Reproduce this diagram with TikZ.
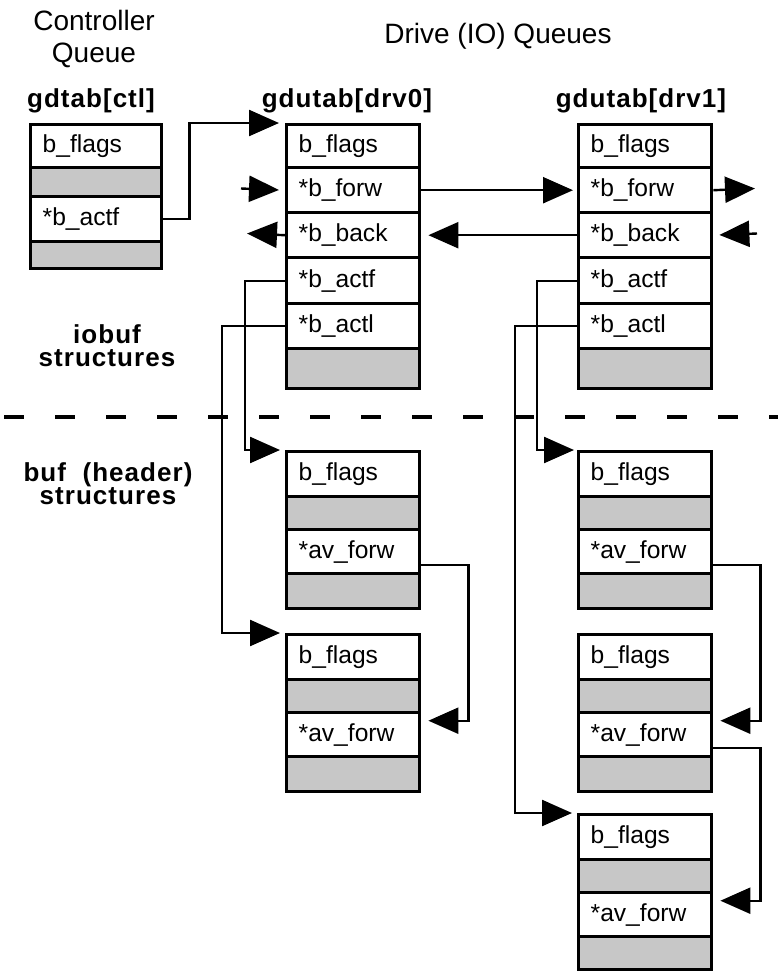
\documentclass[tikz,border=0pt]{standalone}
\usepackage{fontspec}
\setmainfont{Liberation Sans}
\newfontfamily\lblfont[LetterSpace=4]{Liberation Sans}
\usetikzlibrary{arrows.meta}

\begin{document}
\begin{tikzpicture}[x=0.5pt,y=-0.5pt,
  field/.style={draw, line width=1.7pt, minimum height=#1, text width=54.5pt,
    inner xsep=6pt, inner ysep=0pt, align=left, anchor=north west,
    font=\fontsize{12.3}{14}\selectfont},
  ctlfield/.style={field=#1, text width=53.5pt},
  shade/.style={fill=black!22},
  conn/.style={line width=1.2pt, -{Triangle[length=15pt,width=13pt]}},
  title/.style={inner sep=0pt, font=\fontsize{14}{16}\selectfont},
  lbl/.style={inner sep=0pt, font=\lblfont\bfseries\fontsize{13}{11.5}\selectfont},
]
\path[fill=white] (0,0) rectangle (778,971);
\useasboundingbox (0,0) rectangle (778,971);

% headings
\node[title, align=center, anchor=north] (t-ctl) at (94,10) {Controller\\Queue};
\node[title, anchor=base] (t-drive) at (498,43) {Drive (IO) Queues};
\node[lbl, anchor=base] (l-ctl) at (91,107) {gdtab[ctl]};
\node[lbl, anchor=base] (l-d0) at (347,107) {gdutab[drv0]};
\node[lbl, anchor=base] (l-d1) at (641,107) {gdutab[drv1]};
\node[lbl, align=center] (l-io) at (107,346) {iobuf\\structures};
\node[lbl, align=center] (l-buf) at (108,484) {buf\ \ (header)\\structures};

% divider between iobuf and buf structures
\draw[line width=1.6pt, dash pattern=on 10pt off 15.5pt] (4,417) -- (778,417);

% controller queue
\node[ctlfield=21.5pt] (c-flags) at (29,123) {b\_flags};
\node[ctlfield=14.5pt, shade] (c-s1) at (29,166) {};
\node[ctlfield=22.5pt] (c-actf) at (29,195) {*b\_actf};
\node[ctlfield=13.5pt, shade] (c-s2) at (29,240) {};

% drive queue heads
\node[field=21.5pt] (d0-flags) at (285,123) {b\_flags};
\node[field=22.5pt] (d0-forw) at (285,166) {*b\_forw};
\node[field=22.5pt] (d0-back) at (285,211) {*b\_back};
\node[field=23pt] (d0-actf) at (285,256) {*b\_actf};
\node[field=22.5pt] (d0-actl) at (285,302) {*b\_actl};
\node[field=20pt, shade] (d0-s) at (285,347) {};

\node[field=21.5pt] (d1-flags) at (577,123) {b\_flags};
\node[field=22.5pt] (d1-forw) at (577,166) {*b\_forw};
\node[field=22.5pt] (d1-back) at (577,211) {*b\_back};
\node[field=23pt] (d1-actf) at (577,256) {*b\_actf};
\node[field=22.5pt] (d1-actl) at (577,302) {*b\_actl};
\node[field=20pt, shade] (d1-s) at (577,347) {};

% buf headers, drive 0
\node[field=22.5pt] (b01-flags) at (285,450) {b\_flags};
\node[field=16.5pt, shade] (b01-s1) at (285,495) {};
\node[field=22pt] (b01-avf) at (285,528) {*av\_forw};
\node[field=17.5pt, shade] (b01-s2) at (285,572) {};

\node[field=22.5pt] (b02-flags) at (285,633) {b\_flags};
\node[field=16.5pt, shade] (b02-s1) at (285,678) {};
\node[field=22pt] (b02-avf) at (285,711) {*av\_forw};
\node[field=17.5pt, shade] (b02-s2) at (285,755) {};

% buf headers, drive 1
\node[field=22.5pt] (b11-flags) at (577,450) {b\_flags};
\node[field=16.5pt, shade] (b11-s1) at (577,495) {};
\node[field=22pt] (b11-avf) at (577,528) {*av\_forw};
\node[field=17.5pt, shade] (b11-s2) at (577,572) {};

\node[field=22.5pt] (b12-flags) at (577,633) {b\_flags};
\node[field=16.5pt, shade] (b12-s1) at (577,678) {};
\node[field=22pt] (b12-avf) at (577,711) {*av\_forw};
\node[field=17.5pt, shade] (b12-s2) at (577,755) {};

\node[field=22.5pt] (b13-flags) at (577,813) {b\_flags};
\node[field=16.5pt, shade] (b13-s1) at (577,858) {};
\node[field=22pt] (b13-avf) at (577,891) {*av\_forw};
\node[field=16.5pt, shade] (b13-s2) at (577,935) {};

% free ends of the forward/backward chain
\coordinate (d0-in) at (241,188.5);
\coordinate (d0-out) at (247,233.5);
\coordinate (d1-out) at (755,188.5);
\coordinate (d1-in) at (757,233.5);

% controller -> first drive
\draw[conn, shorten >=3pt] (c-actf.east) -- ++(26,0) |- (d0-flags.north west);

% drive chain
\draw[conn, shorten >=3pt] (d0-in) -- (d0-forw.west);
\draw[conn] (d0-back.west) -- (d0-out);
\draw[conn, shorten >=2pt] (d0-forw.east) -- (d1-forw.west);
\draw[conn, shorten >=3.5pt] (d1-back.west) -- (d0-back.east);
\draw[conn] (d1-forw.east) -- (d1-out);
\draw[conn, shorten >=3pt] (d1-in) -- (d1-back.east);

% active lists, drive 0
\draw[conn, shorten >=2.5pt] (d0-actf.west) -- ++(-40,0) |- (b01-flags.north west);
\draw[conn, shorten >=2.5pt] (d0-actl.west) -- ++(-63,0) |- (b02-flags.north west);
\draw[conn, shorten >=3.5pt] ([yshift=-6.5pt]b01-avf.east) -- ++(47,0) |- ([yshift=7pt]b02-avf.east);

% active lists, drive 1
\draw[conn, shorten >=1.5pt] (d1-actf.west) -- ++(-40,0) |- (b11-flags.north west);
\draw[conn, shorten >=2.5pt] (d1-actl.west) -- ++(-62,0) |- (b13-flags.north west);
\draw[conn, shorten >=3.5pt] ([yshift=-6.5pt]b11-avf.east) -- ++(47,0) |- ([yshift=7pt]b12-avf.east);
\draw[conn, shorten >=3.5pt] ([yshift=-6.5pt]b12-avf.east) -- ++(47,0) |- ([yshift=7pt]b13-avf.east);
\end{tikzpicture}
\end{document}
